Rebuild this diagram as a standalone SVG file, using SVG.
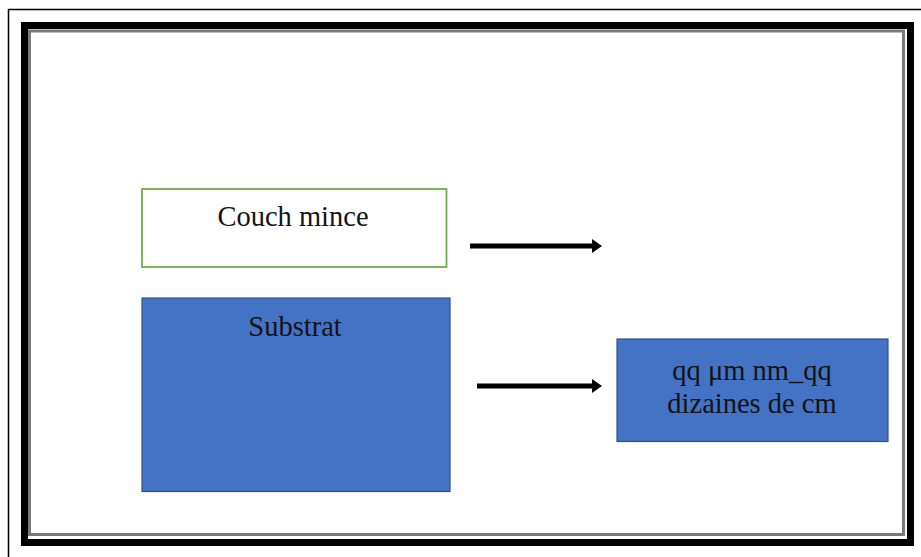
<svg xmlns="http://www.w3.org/2000/svg" width="921" height="557" viewBox="0 0 921 557">
  <style>
    .label { font-family: "Liberation Serif", "Times New Roman", serif; font-size: 28.5px; fill: #141414; text-anchor: middle; }
    .blue { fill: #4472c4; stroke: #2f528f; stroke-width: 1.2; }
    .arrow { stroke: #000; stroke-width: 5; fill: none; marker-end: url(#head); }
  </style>
  <defs>
    <marker id="head" viewBox="0 0 10 14" refX="2" refY="7" markerWidth="10" markerHeight="14" markerUnits="userSpaceOnUse" orient="auto">
      <path d="M0,0 L10,7 L0,14 Z" fill="#000"/>
    </marker>
  </defs>

  <rect width="921" height="557" fill="#fff"/>

  <!-- page border: thin outer line, thick black frame, thin grey inner line -->
  <g id="border" fill="none">
    <rect x="8.5" y="9.5" width="920" height="560" stroke="#000" stroke-width="1.5"/>
    <rect x="24.5" y="25.5" width="886" height="517" stroke="#000" stroke-width="7"/>
    <rect x="29.5" y="31" width="874" height="503.5" stroke="#7a7a7a" stroke-width="3"/>
  </g>

  <g id="couche-mince">
    <rect x="142" y="189" width="304.5" height="78" fill="#fff" stroke="#70ad47" stroke-width="1.8"/>
    <text class="label" x="293" y="226">Couch mince</text>
  </g>

  <g id="substrat">
    <rect class="blue" x="142" y="298" width="308" height="193.5"/>
    <text class="label" x="295" y="336">Substrat</text>
  </g>

  <g id="epaisseur">
    <rect class="blue" x="617" y="339" width="271" height="102.5"/>
    <text class="label" x="752" y="380">qq μm nm_qq</text>
    <text class="label" x="752" y="413">dizaines de cm</text>
  </g>

  <g id="connectors">
    <line class="arrow" x1="470" y1="246" x2="594" y2="246"/>
    <line class="arrow" x1="477" y1="386" x2="594" y2="386"/>
  </g>
</svg>
